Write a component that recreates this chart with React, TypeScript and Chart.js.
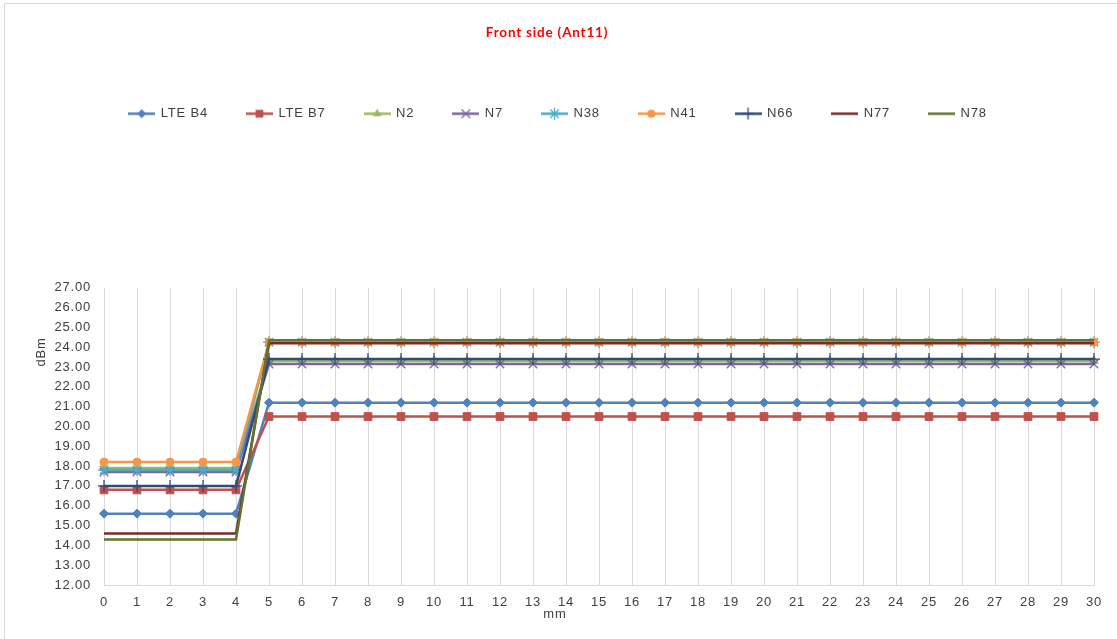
import React, { useEffect, useRef } from 'react';
import { Chart, registerables } from 'chart.js';

Chart.register(...registerables);

const categories = ['0', '1', '2', '3', '4', '5', '6', '7', '8', '9', '10', '11', '12', '13', '14', '15', '16', '17', '18', '19', '20', '21', '22', '23', '24', '25', '26', '27', '28', '29', '30'];

const lteB4 = [15.6, 15.6, 15.6, 15.6, 15.6, 21.2, 21.2, 21.2, 21.2, 21.2, 21.2, 21.2, 21.2, 21.2, 21.2, 21.2, 21.2, 21.2, 21.2, 21.2, 21.2, 21.2, 21.2, 21.2, 21.2, 21.2, 21.2, 21.2, 21.2, 21.2, 21.2];
const lteB7 = [16.8, 16.8, 16.8, 16.8, 16.8, 20.5, 20.5, 20.5, 20.5, 20.5, 20.5, 20.5, 20.5, 20.5, 20.5, 20.5, 20.5, 20.5, 20.5, 20.5, 20.5, 20.5, 20.5, 20.5, 20.5, 20.5, 20.5, 20.5, 20.5, 20.5, 20.5];
const n2 = [17.9, 17.9, 17.9, 17.9, 17.9, 23.3, 23.3, 23.3, 23.3, 23.3, 23.3, 23.3, 23.3, 23.3, 23.3, 23.3, 23.3, 23.3, 23.3, 23.3, 23.3, 23.3, 23.3, 23.3, 23.3, 23.3, 23.3, 23.3, 23.3, 23.3, 23.3];
const n7 = [17.7, 17.7, 17.7, 17.7, 17.7, 23.15, 23.15, 23.15, 23.15, 23.15, 23.15, 23.15, 23.15, 23.15, 23.15, 23.15, 23.15, 23.15, 23.15, 23.15, 23.15, 23.15, 23.15, 23.15, 23.15, 23.15, 23.15, 23.15, 23.15, 23.15, 23.15];
const n38 = [17.8, 17.8, 17.8, 17.8, 17.8, 24.25, 24.25, 24.25, 24.25, 24.25, 24.25, 24.25, 24.25, 24.25, 24.25, 24.25, 24.25, 24.25, 24.25, 24.25, 24.25, 24.25, 24.25, 24.25, 24.25, 24.25, 24.25, 24.25, 24.25, 24.25, 24.25];
const n41 = [18.2, 18.2, 18.2, 18.2, 18.2, 24.25, 24.25, 24.25, 24.25, 24.25, 24.25, 24.25, 24.25, 24.25, 24.25, 24.25, 24.25, 24.25, 24.25, 24.25, 24.25, 24.25, 24.25, 24.25, 24.25, 24.25, 24.25, 24.25, 24.25, 24.25, 24.25];
const n66 = [17.0, 17.0, 17.0, 17.0, 17.0, 23.4, 23.4, 23.4, 23.4, 23.4, 23.4, 23.4, 23.4, 23.4, 23.4, 23.4, 23.4, 23.4, 23.4, 23.4, 23.4, 23.4, 23.4, 23.4, 23.4, 23.4, 23.4, 23.4, 23.4, 23.4, 23.4];
const n77 = [14.6, 14.6, 14.6, 14.6, 14.6, 24.2, 24.2, 24.2, 24.2, 24.2, 24.2, 24.2, 24.2, 24.2, 24.2, 24.2, 24.2, 24.2, 24.2, 24.2, 24.2, 24.2, 24.2, 24.2, 24.2, 24.2, 24.2, 24.2, 24.2, 24.2, 24.2];
const n78 = [14.3, 14.3, 14.3, 14.3, 14.3, 24.35, 24.35, 24.35, 24.35, 24.35, 24.35, 24.35, 24.35, 24.35, 24.35, 24.35, 24.35, 24.35, 24.35, 24.35, 24.35, 24.35, 24.35, 24.35, 24.35, 24.35, 24.35, 24.35, 24.35, 24.35, 24.35];

const seriesNames = ['LTE B4', 'LTE B7', 'N2', 'N7', 'N38', 'N41', 'N66', 'N77', 'N78'];
const seriesValues = [lteB4, lteB7, n2, n7, n38, n41, n66, n77, n78];
const seriesColors = ['#4F81BD', '#C0504D', '#9BBB59', '#8064A2', '#4BACC6', '#F79646', '#2C4D75', '#772C2A', '#5F7530'];
const seriesMarkers: (string | false)[] = ['rectRot', 'rect', 'triangle', 'crossRot', 'star', 'circle', 'cross', false, false];
const markerRadius: Record<string, number> = { rectRot: 4.5, rect: 5.5, triangle: 5, crossRot: 6, star: 6, circle: 4, cross: 6 };

const chartTitle = 'Front side (Ant11)';
const xTitle = 'mm';
const yTitle = 'dBm';
const yMin = 12;
const yMax = 27;
const yStep = 1;

const TEXT = '#404040';
const FONT = '"Liberation Sans", Arial, sans-serif';

function drawMarker(ctx: CanvasRenderingContext2D, style: string, cx: number, cy: number, r: number, color: string) {
  ctx.fillStyle = color;
  ctx.strokeStyle = color;
  ctx.lineWidth = 1.3;
  ctx.beginPath();
  if (style === 'rectRot') {
    ctx.moveTo(cx, cy - r); ctx.lineTo(cx + r, cy); ctx.lineTo(cx, cy + r); ctx.lineTo(cx - r, cy); ctx.closePath();
    ctx.fill();
  } else if (style === 'rect') {
    const s = r * Math.SQRT1_2;
    ctx.rect(cx - s, cy - s, 2 * s, 2 * s); ctx.fill();
  } else if (style === 'triangle') {
    for (let i = 0; i < 3; i++) {
      const a = -Math.PI / 2 + i * 2 * Math.PI / 3;
      const px = cx + Math.cos(a) * r, py = cy + Math.sin(a) * r;
      if (i === 0) ctx.moveTo(px, py); else ctx.lineTo(px, py);
    }
    ctx.closePath(); ctx.fill();
  } else if (style === 'circle') {
    ctx.arc(cx, cy, r, 0, Math.PI * 2); ctx.fill();
  } else {
    const d = r * Math.SQRT1_2;
    if (style === 'crossRot' || style === 'star') {
      ctx.moveTo(cx - d, cy - d); ctx.lineTo(cx + d, cy + d);
      ctx.moveTo(cx - d, cy + d); ctx.lineTo(cx + d, cy - d);
    }
    if (style === 'cross' || style === 'star') {
      ctx.moveTo(cx, cy - r); ctx.lineTo(cx, cy + r);
      ctx.moveTo(cx - r, cy); ctx.lineTo(cx + r, cy);
    }
    ctx.stroke();
  }
}

function legendSymbol(i: number): HTMLCanvasElement {
  const c = document.createElement('canvas');
  c.width = 27;
  c.height = 13;
  const ctx = c.getContext('2d')!;
  ctx.strokeStyle = seriesColors[i];
  ctx.lineWidth = 2.5;
  ctx.beginPath();
  ctx.moveTo(0, 6.5);
  ctx.lineTo(27, 6.5);
  ctx.stroke();
  const m = seriesMarkers[i];
  if (m) drawMarker(ctx, m, 13.5, 6.5, markerRadius[m], seriesColors[i]);
  return c;
}

const spacingPlugin = {
  id: 'excelLook',
  beforeUpdate(chart: any) { chart.ctx.letterSpacing = '0.8px'; },
  beforeLayout(chart: any) { chart.ctx.letterSpacing = '0.8px'; },
  afterLayout(chart: any) {
    if (chart.legend) {
      chart.legend.left += 11;
      chart.legend.right += 11;
    }
  },
  beforeDraw(chart: any) {
    const ctx = chart.ctx;
    ctx.letterSpacing = '0.8px';
    ctx.save();
    ctx.fillStyle = '#ffffff';
    ctx.fillRect(0, 0, chart.width, chart.height);
    ctx.strokeStyle = '#d9d9d9';
    ctx.lineWidth = 1;
    ctx.strokeRect(4.5, 3.5, 1400, 900);
    ctx.restore();
  },
  afterDraw(chart: any) {
    const ctx = chart.ctx;
    ctx.save();
    ctx.font = `13px ${FONT}`;
    ctx.fillStyle = TEXT;
    ctx.textAlign = 'center';
    ctx.textBaseline = 'middle';
    ctx.fillText(xTitle, 555, 614);
    ctx.translate(41, 352);
    ctx.rotate(-Math.PI / 2);
    ctx.fillText(yTitle, 0, 0);
    ctx.restore();
  },
};

export default function App() {
  const ref = useRef<HTMLCanvasElement>(null);
  useEffect(() => {
    const canvas = ref.current!;
    const symbols = seriesNames.map((_, i) => legendSymbol(i));
    const datasets = seriesNames.map((name, i) => {
      const m = seriesMarkers[i];
      const isLineMarker = m === 'cross' || m === 'crossRot' || m === 'star';
      return {
        label: name,
        data: seriesValues[i],
        borderColor: seriesColors[i],
        backgroundColor: seriesColors[i],
        borderWidth: 2.5,
        pointStyle: m || 'circle',
        pointRadius: m ? markerRadius[m] : 0,
        pointBorderWidth: isLineMarker ? 1.3 : 1,
        pointBackgroundColor: seriesColors[i],
        pointBorderColor: seriesColors[i],
        tension: 0,
        fill: false,
        order: -i,
        xAxisID: 'x',
        yAxisID: 'y',
      };
    });
    const chart = new Chart(canvas, {
      type: 'line',
      data: { labels: categories, datasets },
      plugins: [spacingPlugin],
      options: {
        responsive: false,
        animation: false,
        events: [],
        layout: { padding: { top: 0, left: 0, right: 23, bottom: 0 } },
        plugins: {
          tooltip: { enabled: false },
          title: {
            display: true,
            text: chartTitle,
            color: '#FF0000',
            font: { family: 'Lato, "Liberation Sans", sans-serif', size: 13.5, weight: 'bold' },
            padding: { top: 25, bottom: 27 },
          },
          legend: {
            display: true,
            position: 'top',
            labels: {
              usePointStyle: true,
              pointStyleWidth: 25,
              boxHeight: 13,
              padding: 39,
              color: TEXT,
              font: { family: FONT, size: 13 },
              generateLabels: () => seriesNames.map((name, i) => ({
                text: name,
                pointStyle: symbols[i],
                fillStyle: 'transparent',
                strokeStyle: 'transparent',
                lineWidth: 0,
                hidden: false,
                datasetIndex: i,
                fontColor: TEXT,
              })),
            },
          },
        },
        scales: {
          x: {
            type: 'category',
            position: 'bottom',
            offset: false,
            grid: { display: true, color: '#d9d9d9', lineWidth: 1, drawTicks: false, offset: false },
            border: { display: true, color: '#d9d9d9', width: 1 },
            ticks: { color: TEXT, font: { family: FONT, size: 13 }, padding: 10, maxRotation: 0, autoSkip: false },
            afterFit: (s: any) => { s.height = 54; },
          },
          pad: {
            type: 'linear',
            position: 'top',
            display: true,
            grid: { display: false, drawTicks: false },
            border: { display: false },
            ticks: { display: false },
            afterFit: (s: any) => { s.height = 157.5; },
          },
          y: {
            type: 'linear',
            position: 'left',
            min: yMin,
            max: yMax,
            grid: { display: false, drawTicks: false },
            border: { display: false },
            ticks: {
              stepSize: yStep,
              color: TEXT,
              font: { family: FONT, size: 13 },
              padding: 13,
              callback: (v: any) => Number(v).toFixed(2),
            },
            afterFit: (s: any) => { s.width = 104; },
          },
        },
      } as any,
    });
    return () => chart.destroy();
  }, []);
  return (
    <div style={{ position: 'fixed', left: 0, top: 0, width: 1117, height: 639, background: '#ffffff' }}>
      <canvas ref={ref} width={1117} height={639} style={{ display: 'block' }} />
    </div>
  );
}
